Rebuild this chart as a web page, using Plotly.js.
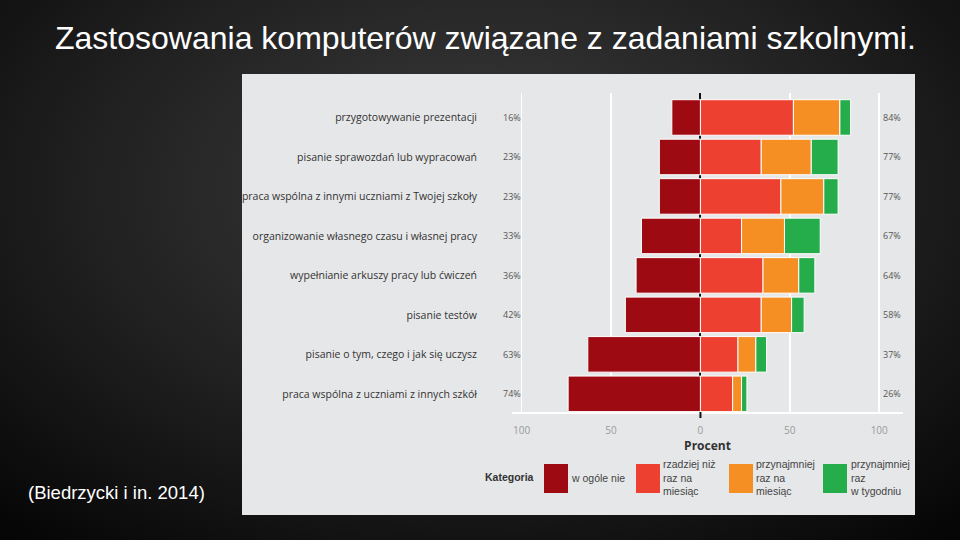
<!DOCTYPE html>
<html>
<head>
<meta charset="utf-8">
<script src="https://cdn.plot.ly/plotly-3.0.1.min.js"></script>
<style>
html,body{margin:0;padding:0;width:960px;height:540px;overflow:hidden;
background:radial-gradient(ellipse 75% 85% at 50% 35%, #3d3d3d 0%, #202020 55%, #050505 100%);}
#chart{width:960px;height:540px;}
</style>
</head>
<body>
<div id="chart"></div>
<script>
// ---- data (top to bottom) ----
const categories = [
  'przygotowywanie prezentacji',
  'pisanie sprawozdań lub wypracowań',
  'praca wspólna z innymi uczniami z Twojej szkoły',
  'organizowanie własnego czasu i własnej pracy',
  'wypełnianie arkuszy pracy lub ćwiczeń',
  'pisanie testów',
  'pisanie o tym, czego i jak się uczysz',
  'praca wspólna z uczniami z innych szkół'
];
const neverVals   = [16, 23, 23, 33, 36, 42, 63, 74];
const lessMonthly = [52, 34, 45, 23, 35, 34, 21, 18];
const monthly     = [26, 28, 24, 24, 20, 17, 10, 5];
const weekly      = [6, 15, 8, 20, 9, 7, 6, 3];
const seriesNames = ['w ogóle nie', 'rzadziej niż<br>raz na<br>miesiąc', 'przynajmniej<br>raz na<br>miesiąc', 'przynajmniej<br>raz<br>w tygodniu'];
const seriesColors = ['#9d0a12', '#ee4031', '#f58f24', '#25ad4b'];
const xTickVals = [-100, -50, 0, 50, 100];
const xTickText = ['100', '50', '0', '50', '100'];
const titleText = 'Zastosowania komputerów związane z zadaniami szkolnymi.';
const sourceText = '(Biedrzycki i in. 2014)';
const legendTitle = 'Kategoria';
const axisTitle = 'Procent';

// ---- geometry ----
const W = 960, H = 540;
const PL = 512, PR = 903, PT = 93, PB = 412;
const px2x = p => (p - PL) / (PR - PL);
const px2y = p => (PB - p) / (PB - PT);

const allSeries = [neverVals.map(v => -v), lessMonthly, monthly, weekly];
const traces = allSeries.map((vals, i) => ({
  type: 'bar', orientation: 'h',
  y: categories, x: vals,
  name: seriesNames[i],
  width: 0.9,
  marker: {color: seriesColors[i], line: {color: '#ffffff', width: 1}},
  showlegend: false,
  hovertemplate: '%{y}: ' + '%{x}<extra></extra>'
}));

const shapes = [];
const annotations = [];

// panel background
shapes.push({type: 'rect', xref: 'paper', yref: 'paper', layer: 'below',
  x0: px2x(242), x1: px2x(915), y0: px2y(515), y1: px2y(74),
  fillcolor: '#e6e7e8', line: {width: 0}});
// little zero tick below axis
shapes.push({type: 'line', xref: 'x', yref: 'paper', x0: 0, x1: 0,
  y0: px2y(418), y1: px2y(412), line: {color: '#111', width: 2}});

// percent labels
categories.forEach((c, i) => {
  const right = lessMonthly[i] + monthly[i] + weekly[i];
  annotations.push({xref: 'paper', yref: 'y', x: px2x(512), y: c, text: neverVals[i] + '%',
    showarrow: false, xanchor: 'center', font: {family: 'Open Sans', size: 9, color: '#555'}});
  annotations.push({xref: 'paper', yref: 'y', x: px2x(892), y: c, text: right + '%',
    showarrow: false, xanchor: 'center', font: {family: 'Open Sans', size: 9, color: '#555'}});
});

// custom legend
annotations.push({xref: 'paper', yref: 'paper', x: px2x(483), y: px2y(477), text: '<b>' + legendTitle + '</b>',
  showarrow: false, xanchor: 'left', yanchor: 'middle', font: {family: 'Liberation Sans', size: 10.5, color: '#333'}});
const boxX = [544, 636, 729, 823];
seriesNames.forEach((n, i) => {
  shapes.push({type: 'rect', xref: 'paper', yref: 'paper',
    x0: px2x(boxX[i]), x1: px2x(boxX[i] + 24), y0: px2y(493), y1: px2y(464),
    fillcolor: seriesColors[i], line: {width: 0}});
  annotations.push({xref: 'paper', yref: 'paper', x: px2x(boxX[i] + 25), y: px2y(477.5), text: n,
    showarrow: false, xanchor: 'left', yanchor: 'middle', align: 'left',
    font: {family: 'Liberation Sans', size: 10.5, color: '#444'}});
});

// slide title and source
annotations.push({xref: 'paper', yref: 'paper', x: px2x(485), y: px2y(38), text: titleText,
  showarrow: false, xanchor: 'center', yanchor: 'middle', font: {family: 'Liberation Sans', size: 32, color: '#ffffff'}});
annotations.push({xref: 'paper', yref: 'paper', x: px2x(26), y: px2y(493), text: sourceText,
  showarrow: false, xanchor: 'left', yanchor: 'middle', font: {family: 'Liberation Sans', size: 18.5, color: '#ffffff'}});

const layout = {
  width: W, height: H,
  margin: {l: PL, r: W - PR, t: PT, b: H - PB, pad: 0},
  paper_bgcolor: 'rgba(0,0,0,0)', plot_bgcolor: 'rgba(0,0,0,0)',
  barmode: 'relative',
  xaxis: {
    range: [-105.4, 113.3], tickvals: xTickVals, ticktext: xTickText,
    showgrid: true, gridcolor: '#ffffff', gridwidth: 1.5,
    zeroline: true, zerolinecolor: '#111111', zerolinewidth: 2,
    showline: true, linecolor: '#ffffff', linewidth: 2,
    ticks: '', ticklabelstandoff: 8,
    tickfont: {family: 'Open Sans', size: 10, color: '#9a9a9a'},
    title: {text: '<b>' + axisTitle + '</b>', standoff: 6, font: {family: 'Open Sans', size: 12, color: '#333'}},
    fixedrange: true
  },
  yaxis: {
    type: 'category', categoryorder: 'array', categoryarray: categories,
    range: [7.46, -0.62],
    showgrid: false, zeroline: false, showline: false, ticks: '',
    ticklabelstandoff: 34,
    tickfont: {family: 'Open Sans', size: 10.5, color: '#333'},
    fixedrange: true
  },
  shapes: shapes,
  annotations: annotations
};

Plotly.newPlot('chart', traces, layout, {displayModeBar: false, staticPlot: true});
</script>
</body>
</html>
